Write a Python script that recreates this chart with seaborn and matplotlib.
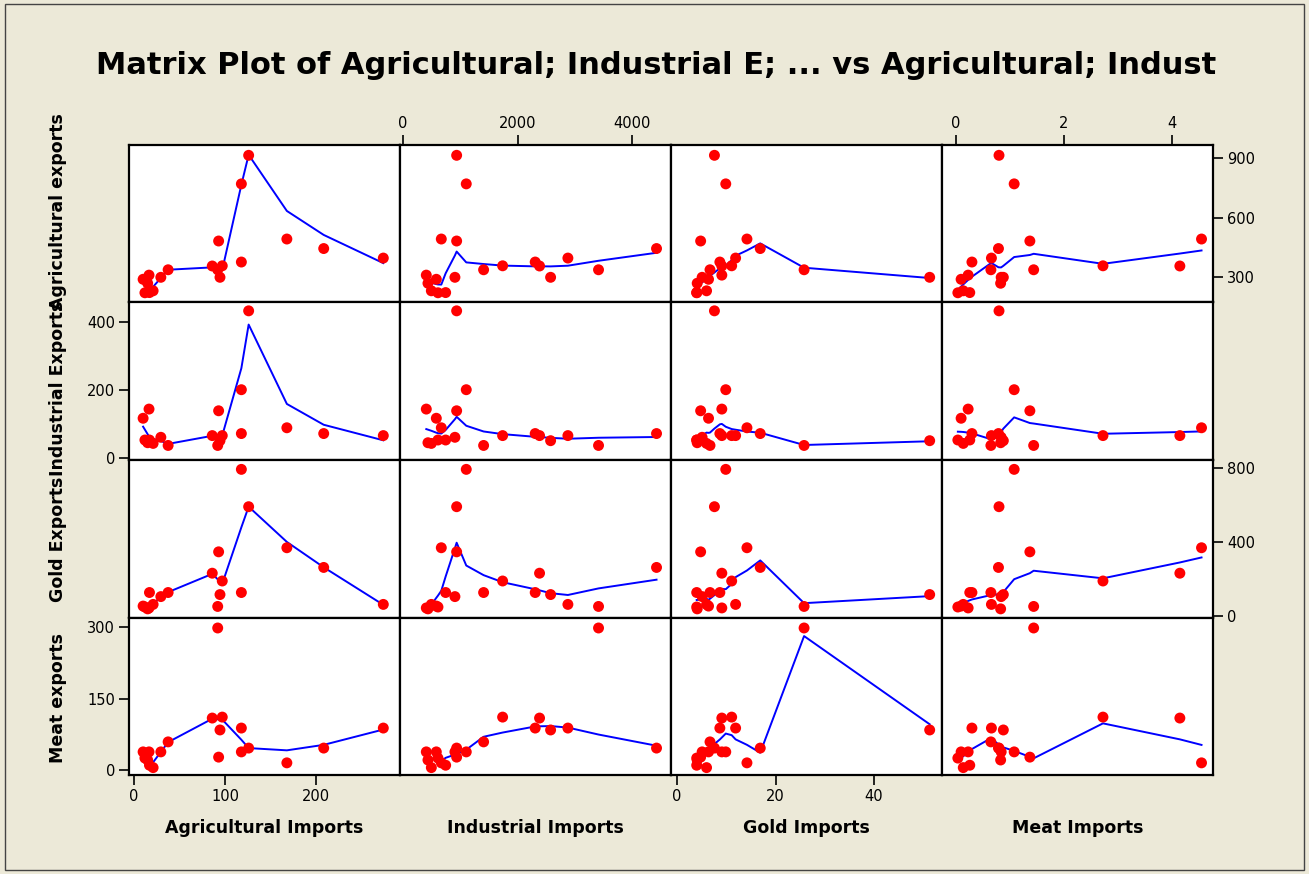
import numpy as np
import pandas as pd
import matplotlib
matplotlib.use("Agg")
import matplotlib.pyplot as plt
from matplotlib.patches import Rectangle
import seaborn as sns

# ---- data: one entry per observation ----
agricultural_imports = [126, 118, 93, 168, 208.5, 274, 118, 92, 94.5, 97, 86, 37.5, 29.5, 16.5, 10, 17, 15, 21, 12]
industrial_imports = [937, 1105, 937, 669, 4428, 2880, 2309, 3415, 2578, 1740, 2385, 1408, 907, 407, 582, 745, 436, 495, 611]
gold_imports = [7.6, 9.9, 4.8, 14.2, 16.9, 11.9, 8.7, 25.8, 51.3, 11.1, 9.1, 6.7, 5.1, 9.1, 6.4, 4.0, 4.1, 6.0, 4.0]
meat_imports = [0.80, 1.08, 1.37, 4.54, 0.79, 0.66, 0.30, 1.44, 0.88, 2.72, 4.14, 0.65, 0.84, 0.23, 0.10, 0.26, 0.83, 0.14, 0.04]

agricultural_exports = [915, 771, 483, 493, 445, 397, 377, 338, 300, 358, 357, 338, 300, 311, 290, 223, 270, 232, 222]
industrial_exports = [432, 200, 138, 88, 71, 65, 71, 36, 50, 65, 65, 36, 60, 143, 116, 52, 44, 42, 52]
gold_exports = [590, 791, 347, 369, 263, 64, 128, 53, 117, 190, 232, 128, 106, 45, 55, 128, 40, 64, 50]
meat_exports = [46, 38, 27, 15, 46, 88, 88, 298, 84, 111, 109, 59, 38, 38, 38, 10, 21, 5, 25]

x_names = ["Agricultural Imports", "Industrial Imports", "Gold Imports", "Meat Imports"]
y_names = ["Agricultural exports", "Industrial Exports", "Gold Exports", "Meat exports"]

df = pd.DataFrame({
    "Agricultural Imports": agricultural_imports,
    "Industrial Imports": industrial_imports,
    "Gold Imports": gold_imports,
    "Meat Imports": meat_imports,
    "Agricultural exports": agricultural_exports,
    "Industrial Exports": industrial_exports,
    "Gold Exports": gold_exports,
    "Meat exports": meat_exports,
})

x_ticks = [[0, 100, 200], [0, 2000, 4000], [0, 20, 40], [0, 2, 4]]
y_ticks = [[300, 600, 900], [0, 200, 400], [0, 400, 800], [0, 150, 300]]
x_limits = [(-5.5, 291.8), (-61, 4672), (-1.32, 53.7), (-0.262, 4.752)]
y_limits = [(175.5, 967), (-6.8, 458), (-6.5, 841.4), (-10.5, 320)]
# smoother span used for each column's predictor
smooth_span = [0.35, 0.5, 0.5, 0.5]


def lowess(x, y, frac=0.5, iters=2):
    """Locally weighted linear regression (tricube weights, bisquare robustness)."""
    x = np.asarray(x, float)
    y = np.asarray(y, float)
    order = np.argsort(x, kind="mergesort")
    xs, ys = x[order], y[order]
    n = len(xs)
    r = max(2, int(np.ceil(frac * n)))
    robust = np.ones(n)
    fitted = np.zeros(n)
    for _ in range(iters + 1):
        for i in range(n):
            d = np.abs(xs - xs[i])
            h = np.sort(d)[r - 1]
            if h <= 0:
                h = 1e-12
            u = np.clip(d / h, 0, 1)
            w = (1 - u ** 3) ** 3 * robust
            sw = w.sum()
            if sw <= 1e-12:
                fitted[i] = ys[i]
                continue
            xm = (w * xs).sum() / sw
            ym = (w * ys).sum() / sw
            sxx = (w * (xs - xm) ** 2).sum()
            b = (w * (xs - xm) * (ys - ym)).sum() / sxx if sxx > 1e-12 else 0.0
            fitted[i] = ym + b * (xs[i] - xm)
        res = ys - fitted
        s = np.median(np.abs(res))
        if s <= 0:
            break
        uu = np.clip(res / (6 * s), -1, 1)
        robust = (1 - uu ** 2) ** 2
    return xs, fitted


W, H = 1309, 874
bg = "#ECE9D8"
plt.rcParams["font.family"] = ["DejaVu Sans"]
fig = plt.figure(figsize=(W / 100, H / 100), dpi=100, facecolor=bg)

col_edges = [129, 399.5, 670.5, 941.5, 1213]
row_edges = [145, 302, 460, 617.5, 775]

for r, yv in enumerate(y_names):
    for c, xv in enumerate(x_names):
        x0, x1 = col_edges[c], col_edges[c + 1]
        y0, y1 = row_edges[r], row_edges[r + 1]
        ax = fig.add_axes([x0 / W, 1 - y1 / H, (x1 - x0) / W, (y1 - y0) / H])
        ax.set_facecolor("white")

        xs, fit = lowess(df[xv].values, df[yv].values, frac=smooth_span[c])
        sns.lineplot(x=xs, y=fit, ax=ax, color="#0000FF", linewidth=1.4,
                     sort=False, estimator=None, zorder=2)
        sns.scatterplot(data=df, x=xv, y=yv, ax=ax, color="#FF0000", s=62,
                        edgecolor="none", linewidth=0, zorder=3)

        ax.set_xlim(*x_limits[c])
        ax.set_ylim(*y_limits[r])
        ax.set_xlabel("")
        ax.set_ylabel("")
        for sp in ax.spines.values():
            sp.set_linewidth(1.6)
            sp.set_color("black")

        ax.set_xticks(x_ticks[c])
        ax.set_yticks(y_ticks[r])
        show_bottom = (r == 3 and c in (0, 2))
        show_top = (r == 0 and c in (1, 3))
        show_left = (c == 0 and r in (1, 3))
        show_right = (c == 3 and r in (0, 2))
        ax.tick_params(axis="x", bottom=show_bottom, top=show_top,
                       labelbottom=show_bottom, labeltop=show_top,
                       direction="out", length=7, width=1.2, labelsize=10.5,
                       pad=3, colors="black")
        ax.tick_params(axis="y", left=show_left, right=show_right,
                       labelleft=show_left, labelright=show_right,
                       direction="out", length=7, width=1.2, labelsize=10.5,
                       pad=3, colors="black")

# title
fig.text(656 / W, 1 - 66 / H,
         "Matrix Plot of Agricultural; Industrial E; ... vs Agricultural; Indust",
         ha="center", va="center", fontsize=22, fontweight="bold", color="black")

# column labels
for c, name in enumerate(x_names):
    xc = (col_edges[c] + col_edges[c + 1]) / 2
    fig.text(xc / W, 1 - 828 / H, name, ha="center", va="center",
             fontsize=12.5, fontweight="bold")

# row labels (the first two are nudged apart so the long label stays clear)
row_label_y = [212, 388, 539, 698]
for name, yc in zip(y_names, row_label_y):
    fig.text(58 / W, 1 - yc / H, name, ha="center", va="center", rotation=90,
             fontsize=12.5, fontweight="bold")

# outer frame
fig.add_artist(Rectangle((5 / W, 4 / H), 1299 / W, 866 / H, transform=fig.transFigure,
                         fill=False, edgecolor="#444444", linewidth=1))

fig.savefig("out.png", dpi=100, facecolor=bg)
